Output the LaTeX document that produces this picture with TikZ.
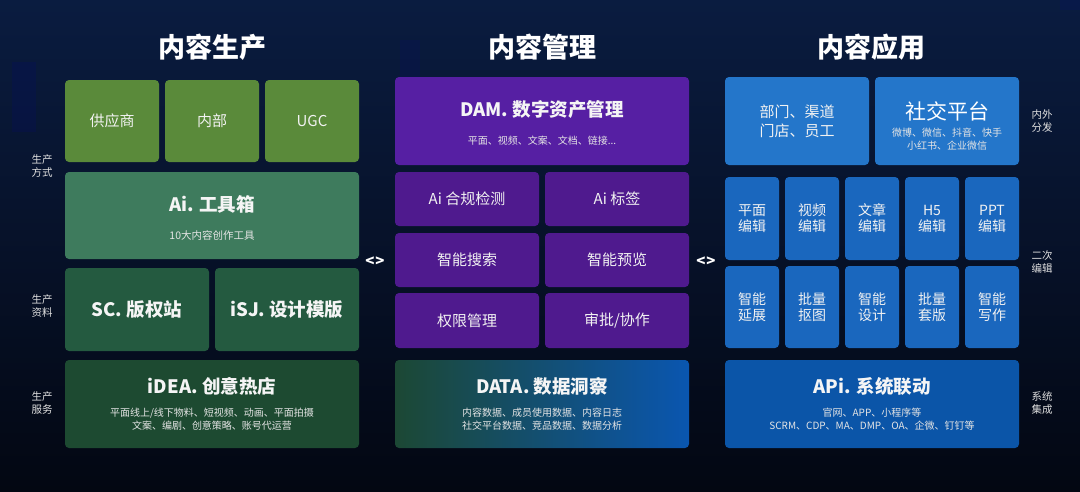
\documentclass[tikz,border=0pt]{standalone}
\usepackage{fontspec}
\setmainfont{Noto Sans CJK SC}
\begin{document}
\begin{tikzpicture}[x=1pt,y=-1pt,
  bx/.style={rounded corners=4pt, inner sep=0pt, text=white},
  ttl/.style={text=white, font=\fontsize{27}{30}\selectfont\bfseries},
  side/.style={text=white!88!black, align=center, font=\fontsize{10.5}{13}\selectfont, inner sep=0pt},
  big/.style={text=white!96!black, font=\fontsize{18.5}{22}\selectfont\bfseries, inner sep=0pt},
  mid/.style={text=white!95!black, font=\fontsize{15}{18}\selectfont, inner sep=0pt, align=center},
  sml/.style={text=white!90!black, font=\fontsize{10}{12.5}\selectfont, inner sep=0pt, align=center},
  cell/.style={text=white!95!black, font=\fontsize{14}{16}\selectfont, inner sep=0pt, align=center}
]
\definecolor{gA}{HTML}{5A8A3A}
\definecolor{gB}{HTML}{3E7B5D}
\definecolor{gC}{HTML}{245A40}
\definecolor{gD}{HTML}{1D4A31}
\definecolor{pA}{HTML}{561FA3}
\definecolor{pB}{HTML}{4F1A8E}
\definecolor{bA}{HTML}{2476CA}
\definecolor{bB}{HTML}{1A67BE}
\definecolor{bC}{HTML}{0B55A8}
\useasboundingbox (0,0) rectangle (1080,491);
\shade[top color={rgb,255:red,10;green,28;blue,64}, bottom color={rgb,255:red,3;green,7;blue,18}] (0,0) rectangle (1080,491);
% faint background bars
\fill[blue!60!black, opacity=0.12] (12,62) rectangle (36,132);
\fill[blue!60!black, opacity=0.10] (400,40) rectangle (420,80);
\fill[blue!60!black, opacity=0.10] (1060,0) rectangle (1080,10);

% titles
\node[ttl] (t1) at (212,47) {内容生产};
\node[ttl] (t2) at (542,47) {内容管理};
\node[ttl] (t3) at (871,47) {内容应用};

% left column
\node[bx, fill=gA, minimum width=94, minimum height=82, cell, font=\fontsize{15}{18}\selectfont] (gys) at (112,121) {供应商};
\node[bx, fill=gA, minimum width=94, minimum height=82, cell, font=\fontsize{15}{18}\selectfont] (nb) at (212,121) {内部};
\node[bx, fill=gA, minimum width=94, minimum height=82, cell, font=\fontsize{15}{18}\selectfont] (ugc) at (312,121) {UGC};
\node[bx, fill=gB, minimum width=294, minimum height=87] (aibox) at (212,215.5) {};
\node[big] (aiT) at (212,204) {Ai. 工具箱};
\node[sml, font=\fontsize{10.5}{12.5}\selectfont] (aiS) at (212,235) {10大内容创作工具};
\node[bx, fill=gC, minimum width=144, minimum height=83] (sc) at (137,309.5) {};
\node[big] (scT) at (137,310) {SC. 版权站};
\node[bx, fill=gC, minimum width=144, minimum height=83] (isj) at (287,309.5) {};
\node[big] (isjT) at (287,310) {iSJ. 设计模版};
\node[bx, fill=gD, minimum width=294, minimum height=88] (idea) at (212,404) {};
\node[big] (ideaT) at (212,386) {iDEA. 创意热店};
\node[sml] (ideaS) at (212,419) {平面线上/线下物料、短视频、动画、平面拍摄\\文案、编剧、创意策略、账号代运营};

% left side labels
\node[side] (s1) at (42,166) {生产\\方式};
\node[side] (s2) at (42,306) {生产\\资料};
\node[side] (s3) at (42,403) {生产\\服务};

% middle column
\node[bx, fill=pA, minimum width=294, minimum height=88] (dam) at (542,121) {};
\node[big] (damT) at (542,110) {DAM. 数字资产管理};
\node[sml] (damS) at (542,141) {平面、视频、文案、文档、链接...};
\node[bx, fill=pB, minimum width=144, minimum height=54, mid] (m11) at (467,199) {Ai 合规检测};
\node[bx, fill=pB, minimum width=144, minimum height=54, mid] (m12) at (617,199) {Ai 标签};
\node[bx, fill=pB, minimum width=144, minimum height=54, mid] (m21) at (467,260) {智能搜索};
\node[bx, fill=pB, minimum width=144, minimum height=54, mid] (m22) at (617,260) {智能预览};
\node[bx, fill=pB, minimum width=144, minimum height=55, mid] (m31) at (467,320.5) {权限管理};
\node[bx, fill=pB, minimum width=144, minimum height=55, mid] (m32) at (617,320.5) {审批/协作};
\node[bx, minimum width=294, minimum height=88,
  left color={rgb,255:red,28;green,72;blue,52},
  middle color={rgb,255:red,74;green,28;blue,140},
  right color={rgb,255:red,10;green,86;blue,176}] (data) at (542,404) {};
\node[big] (dataT) at (542,386) {DATA. 数据洞察};
\node[sml] (dataS) at (542,419) {内容数据、成员使用数据、内容日志\\社交平台数据、竞品数据、数据分析};

% connectors symbols
\node[text=white, font=\fontsize{15}{15}\selectfont\bfseries, inner sep=0pt] (lr1) at (375,262) {<\hspace{1pt}>};
\node[text=white, font=\fontsize{15}{15}\selectfont\bfseries, inner sep=0pt] (lr2) at (706,262) {<\hspace{1pt}>};

% right column
\node[bx, fill=bA, minimum width=144, minimum height=88, mid, font=\fontsize{15}{19}\selectfont] (bm) at (797,121) {部门、渠道\\门店、员工};
\node[bx, fill=bA, minimum width=144, minimum height=88] (sj) at (947,121) {};
\node[text=white, font=\fontsize{21}{24}\selectfont, inner sep=0pt] (sjT) at (947,111) {社交平台};
\node[sml] (sjS) at (947,139) {微博、微信、抖音、快手\\小红书、企业微信};

\node[bx, fill=bB, minimum width=54, minimum height=83, cell] (e1) at (752,218.5) {平面\\编辑};
\node[bx, fill=bB, minimum width=54, minimum height=83, cell] (e2) at (812,218.5) {视频\\编辑};
\node[bx, fill=bB, minimum width=54, minimum height=83, cell] (e3) at (872,218.5) {文章\\编辑};
\node[bx, fill=bB, minimum width=54, minimum height=83, cell] (e4) at (932,218.5) {H5\\编辑};
\node[bx, fill=bB, minimum width=54, minimum height=83, cell] (e5) at (992,218.5) {PPT\\编辑};
\node[bx, fill=bB, minimum width=54, minimum height=82, cell] (f1) at (752,307) {智能\\延展};
\node[bx, fill=bB, minimum width=54, minimum height=82, cell] (f2) at (812,307) {批量\\抠图};
\node[bx, fill=bB, minimum width=54, minimum height=82, cell] (f3) at (872,307) {智能\\设计};
\node[bx, fill=bB, minimum width=54, minimum height=82, cell] (f4) at (932,307) {批量\\套版};
\node[bx, fill=bB, minimum width=54, minimum height=82, cell] (f5) at (992,307) {智能\\写作};

\node[bx, fill=bC, minimum width=294, minimum height=88] (api) at (872,404) {};
\node[big] (apiT) at (872,386) {APi. 系统联动};
\node[sml] (apiS) at (872,419) {官网、APP、小程序等\\SCRM、CDP、MA、DMP、OA、企微、钉钉等};

% right side labels
\node[side] (r1) at (1042,121) {内外\\分发};
\node[side] (r2) at (1042,262) {二次\\编辑};
\node[side] (r3) at (1042,403) {系统\\集成};
\end{tikzpicture}
\end{document}
